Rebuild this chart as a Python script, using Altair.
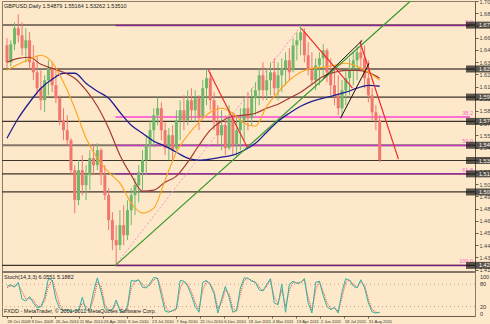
import altair as alt
import pandas as pd

# ---------------- data ----------------
dates = ["26 Oct 2009", "9 Dec 2009", "26 Jan 2010", "11 Mar 2010", "26 Apr 2010",
         "9 Jun 2010", "23 Jul 2010", "7 Sep 2010", "21 Oct 2010", "6 Dec 2010",
         "19 Jan 2011", "4 Mar 2011", "19 Apr 2011", "2 Jun 2011", "18 Jul 2011",
         "31 Aug 2011"]
date_bars = [0, 32, 64, 96, 128, 160, 192, 224, 256, 288, 320, 352, 384, 416, 448, 480]

# weekly candles (bar index = trading day count from 26 Oct 2009)
bars = [5 * w for w in range(100)]
opens = [1.6538,1.6360,1.6549,1.6717,1.6643,1.6507,1.6591,1.6360,1.6255,1.6088,
         1.5962,1.6172,1.6297,1.6119,1.5983,1.5752,1.5648,1.5543,1.5228,1.4914,
         1.5228,1.5071,1.5176,1.5354,1.5281,1.5438,1.5176,1.4966,1.4704,1.4495,
         1.4442,1.4652,1.4547,1.4809,1.4966,1.5071,1.5207,1.5333,1.5490,1.5648,
         1.5805,1.5878,1.5648,1.5459,1.5595,1.5459,1.5752,1.5857,1.5752,1.5962,
         1.5857,1.5983,1.5794,1.6088,1.6193,1.5962,1.5731,1.5595,1.5700,1.5459,
         1.5773,1.5490,1.5648,1.5752,1.5878,1.5773,1.5983,1.6067,1.6224,1.6067,
         1.6172,1.6255,1.6088,1.6224,1.6297,1.6381,1.6276,1.6538,1.6591,1.6675,
         1.6434,1.6276,1.6172,1.6329,1.6402,1.6486,1.6255,1.6119,1.6014,1.5878,
         1.6067,1.6193,1.6297,1.6381,1.6465,1.6402,1.6193,1.6014,1.5836,1.5752]
closes = [1.6360,1.6549,1.6717,1.6643,1.6507,1.6591,1.6360,1.6255,1.6088,1.5962,
          1.6172,1.6297,1.6119,1.5983,1.5752,1.5648,1.5543,1.5228,1.4914,1.5228,
          1.5071,1.5176,1.5354,1.5281,1.5438,1.5176,1.4966,1.4704,1.4495,1.4442,
          1.4652,1.4547,1.4809,1.4966,1.5071,1.5207,1.5333,1.5490,1.5648,1.5805,
          1.5878,1.5648,1.5459,1.5595,1.5438,1.5752,1.5857,1.5752,1.5962,1.5857,
          1.5983,1.5773,1.6088,1.6193,1.5962,1.5731,1.5595,1.5700,1.5459,1.5773,
          1.5490,1.5648,1.5752,1.5878,1.5773,1.5983,1.6067,1.6224,1.6067,1.6172,
          1.6255,1.6088,1.6224,1.6297,1.6381,1.6255,1.6538,1.6591,1.6675,1.6434,
          1.6276,1.6172,1.6329,1.6402,1.6486,1.6255,1.6119,1.6014,1.5878,1.6067,
          1.6193,1.6297,1.6381,1.6465,1.6402,1.6193,1.6014,1.5836,1.5752,1.5333]
highs = [1.6612,1.6591,1.6779,1.6863,1.6779,1.6717,1.6675,1.6538,1.6434,1.6276,
         1.6224,1.6381,1.6360,1.6276,1.6014,1.5878,1.5805,1.5564,1.5281,1.5333,
         1.5386,1.5281,1.5438,1.5490,1.5511,1.5459,1.5281,1.5040,1.4788,1.4652,
         1.4809,1.4862,1.4914,1.5040,1.5145,1.5281,1.5438,1.5595,1.5752,1.5878,
         1.5993,1.5941,1.5731,1.5669,1.5700,1.5857,1.5962,1.6014,1.6067,1.6088,
         1.6067,1.6014,1.6172,1.6287,1.6255,1.6046,1.5910,1.5857,1.5805,1.5910,
         1.5836,1.5805,1.5878,1.5983,1.6046,1.6088,1.6151,1.6297,1.6360,1.6297,
         1.6360,1.6402,1.6360,1.6402,1.6465,1.6507,1.6612,1.6675,1.6748,1.6717,
         1.6570,1.6465,1.6402,1.6465,1.6549,1.6507,1.6402,1.6297,1.6224,1.6172,
         1.6297,1.6402,1.6465,1.6528,1.6591,1.6538,1.6381,1.6088,1.5910,1.5805]
lows = [1.6297,1.6318,1.6486,1.6570,1.6434,1.6360,1.6276,1.6172,1.6014,1.5857,
        1.5836,1.6014,1.6046,1.5931,1.5700,1.5543,1.5490,1.5176,1.4778,1.4862,
        1.4966,1.4914,1.5019,1.5176,1.5228,1.5071,1.4914,1.4600,1.4390,1.4233,
        1.4390,1.4442,1.4495,1.4652,1.4757,1.4893,1.5019,1.5176,1.5333,1.5469,
        1.5700,1.5543,1.5386,1.5333,1.5333,1.5438,1.5543,1.5648,1.5700,1.5752,
        1.5731,1.5648,1.5773,1.5910,1.5857,1.5648,1.5490,1.5438,1.5386,1.5438,
        1.5386,1.5365,1.5438,1.5543,1.5648,1.5700,1.5805,1.5910,1.5962,1.5962,
        1.6014,1.6014,1.5962,1.6046,1.6119,1.6172,1.6255,1.6381,1.6434,1.6360,
        1.6224,1.6119,1.6067,1.6119,1.6224,1.6151,1.6014,1.5910,1.5805,1.5773,
        1.5910,1.6014,1.6119,1.6172,1.6276,1.6088,1.5941,1.5752,1.5648,1.5312]

# moving averages, read every 15 bars
ma_bars = [15 * i for i in range(34)]
ma_fast = [1.6276,1.6339,1.6392,1.6434,1.6360,1.6151,1.5878,1.5564,1.5354,1.5207,
           1.5092,1.4883,1.4778,1.4830,1.5124,1.5417,1.5595,1.5731,1.5836,1.5878,
           1.5826,1.5721,1.5690,1.5899,1.6046,1.6172,1.6255,1.6297,1.6308,1.6329,
           1.6350,1.6318,1.6255,1.6172]
ma_mid = [1.6360,1.6402,1.6413,1.6339,1.6297,1.6255,1.6193,1.6067,1.5899,1.5669,
          1.5386,1.5176,1.5008,1.5019,1.5103,1.5166,1.5312,1.5490,1.5648,1.5742,
          1.5794,1.5805,1.5826,1.5878,1.5920,1.5983,1.6046,1.6130,1.6214,1.6255,
          1.6276,1.6276,1.6255,1.6193]
ma_slow = [1.5564,1.5773,1.5941,1.6088,1.6182,1.6245,1.6245,1.6140,1.6056,1.5983,
           1.5836,1.5700,1.5616,1.5532,1.5480,1.5417,1.5354,1.5333,1.5344,1.5365,
           1.5386,1.5438,1.5511,1.5627,1.5742,1.5826,1.5899,1.5951,1.5983,1.6014,
           1.6046,1.6088,1.6119,1.6109]

# stochastic (%K and signal), one value per candle
stoch_k = [75,78,72,85,40,35,47,30,17,20, 45,95,90,40,15,8,12,6,10,8,
           45,10,12,60,97,60,15,10,12,38, 8,5,20,90,88,92,72,70,83,98,
           96,50,8,5,10,15,90,88,75,50, 20,5,85,90,78,55,3,40,74,45,
           5,10,70,97,96,88,85,65,62,80, 95,30,25,80,5,80,88,82,85,95,
           30,3,85,88,50,20,12,18,3,60, 95,90,75,70,92,70,30,6,3,5]
stoch_d = [70,76,75,80,60,40,42,38,22,20, 35,75,92,60,25,10,10,8,9,9,
           30,20,12,40,85,75,25,12,11,28, 18,7,15,70,88,90,80,72,78,92,
           97,65,20,7,8,12,70,88,80,60, 30,10,65,88,82,62,15,30,65,55,
           15,8,55,90,96,90,86,72,63,75, 90,45,28,65,20,65,85,84,84,92,
           45,10,65,87,60,30,15,16,8,45, 85,92,80,72,85,78,40,12,5,4]
stoch_levels = [20, 80]
stoch_labels = [100, 80, 20, 0]

# price axis
price_ticks = [1.7002,1.6874,1.6746,1.6618,1.6490,1.6362,1.6234,1.6106,1.5978,1.5850,
               1.5722,1.5594,1.5466,1.5338,1.5210,1.5082,1.4954,1.4826,1.4698,1.4570,
               1.4442,1.4314,1.4186]

# horizontal support/resistance lines
hl_heavy = [1.6750, 1.6290, 1.5490]
hl_thin = [1.5995, 1.5740, 1.5330, 1.5190, 1.5000, 1.4230]
hl_boxes = [1.6750, 1.6290, 1.5995, 1.5740, 1.5490, 1.5330, 1.5190, 1.5000, 1.4230]

# fibonacci retracement (low 1.4230 -> high 1.6746)
fib_start, fib_end = 144, 615
fib_names = ["0.0", "38.2", "50.0", "61.8", "100.0"]
fib_prices = [1.6746, 1.5785, 1.5488, 1.5191, 1.4230]

# trend lines (bar, price) -> (bar, price)
green_seg = [(144, 1.4230, 537, 1.7010)]
fib_diag = [(144, 1.4230, 391, 1.6746)]
red_segs = [(267, 1.6287, 319, 1.5469), (391, 1.6717, 459, 1.6088), (469, 1.6570, 520, 1.5344)]
black_segs = [(420, 1.6193, 472, 1.6591), (443, 1.5773, 481, 1.6350)]

title_txt = "GBPUSD,Daily  1.54879 1.55164 1.53262 1.53510"
stoch_txt = "Stoch(14,3,3) 6.0551 5.1882"
copy_txt = "FXDD - MetaTrader, \u00a9 2001-2011 MetaQuotes Software Corp."

# ---------------- chart ----------------
BG = "#FDE9C9"
FONT = "Liberation Sans"
W, H = 473, 315

xsc = alt.Scale(domain=[0, 615], nice=False, zero=False)
ysc = alt.Scale(domain=[1.4171, 1.7003], range=[270, 0], nice=False, zero=False)
ssc = alt.Scale(domain=[-5, 110], range=[315, 272], nice=False, zero=False)

date_expr = "[" + ",".join("'%s'" % d for d in dates) + "][round(datum.value / 32)]"

candles = pd.DataFrame({"bar": bars, "open": opens, "high": highs, "low": lows, "close": closes})
candles["dir"] = ["up" if c >= o else "down" for o, c in zip(opens, closes)]

def dcol():
    return alt.Color("dir:N", scale=alt.Scale(domain=["up", "down"], range=["#6fb86a", "#f0766e"]),
                     legend=None)

xax = alt.Axis(values=date_bars, labelExpr=date_expr, orient="bottom", labelAlign="left",
               labelPadding=1, tickSize=2, labelFontSize=4.2, labelFont=FONT, labelColor="#333333",
               domainColor="#6a5a4a", tickColor="#6a5a4a", title=None, grid=False,
               labelOverlap=False, labelBound=False, labelFlush=False, zindex=0)
yax = alt.Axis(orient="right", values=price_ticks, format=".5f", tickSize=3, labelPadding=1,
               labelFontSize=5.5, labelFont=FONT, labelColor="#444444", domainColor="#6a5a4a",
               tickColor="#6a5a4a", title=None, grid=False, labelOverlap=False,
               labelFlush=False, labelBound=False, zindex=0)

def X(field):
    return alt.X(field, scale=xsc, axis=xax, title=None)

def Y(field):
    return alt.Y(field, scale=ysc, axis=yax, title=None)

def YS(field):
    return alt.Y(field, scale=ssc, axis=None, title=None)

wicks = alt.Chart(candles).mark_rule(strokeWidth=1, clip=True).encode(
    x=X("bar:Q"), y=Y("low:Q"), y2="high:Q", color=dcol())
bodies = alt.Chart(candles).mark_bar(size=3, clip=True).encode(
    x=X("bar:Q"), y=Y("open:Q"), y2="close:Q", color=dcol())

def hlines(levels, color, width):
    return alt.Chart(pd.DataFrame({"p": levels})).mark_rule(color=color, strokeWidth=width).encode(
        y=Y("p:Q"))

heavy = hlines(hl_heavy, "#85766a", 2)
thin = hlines(hl_thin, "#3e342b", 1.2)

fib_colors_list = ["#8e2a8e", "#ff44d8", "#c13cc0", "#9a2e9a", "#7c1f7c"]
fib_layers = []
for nm, pr, colr in zip(fib_names, fib_prices, fib_colors_list):
    fdf = pd.DataFrame({"p": [pr], "x1": [fib_start], "x2": [fib_end]})
    fib_layers.append(alt.Chart(fdf).mark_rule(strokeWidth=1.5, color=colr).encode(
        x=X("x1:Q"), x2="x2:Q", y=Y("p:Q")))

fib_df = pd.DataFrame({"name": fib_names, "p": fib_prices})
fib_text = alt.Chart(fib_df).mark_text(align="right", baseline="bottom", dy=-1, fontSize=5.5,
                                       font=FONT, color="#ff5fd0").encode(
    x=alt.value(471), y=Y("p:Q"), text="name:N")

def segs(rows, color, width, dash=None):
    df = pd.DataFrame(rows, columns=["x1", "y1", "x2", "y2"])
    kw = dict(color=color, strokeWidth=width, clip=True)
    if dash:
        kw["strokeDash"] = dash
    return alt.Chart(df).mark_rule(**kw).encode(
        x=X("x1:Q"), x2="x2:Q", y=Y("y1:Q"), y2="y2:Q")

green = segs(green_seg, "#3a9a2e", 1.3)
fibd = segs(fib_diag, "#f58fd0", 1, [2, 2])
reds = segs(red_segs, "#f02a2a", 1.2)
blacks = segs(black_segs, "#111111", 1)

ma_df = pd.DataFrame({"bar": ma_bars, "fast": ma_fast, "mid": ma_mid, "slow": ma_slow})
def ma(col, color, width):
    return alt.Chart(ma_df).mark_line(color=color, strokeWidth=width, interpolate="monotone",
                                      clip=True).encode(x=X("bar:Q"), y=Y(col + ":Q"))

ma1 = ma("slow", "#1f1f94", 1.3)
ma2 = ma("mid", "#a43a34", 1.2)
ma3 = ma("fast", "#ffa31a", 1.1)

box_df = pd.DataFrame({"p": hl_boxes, "t": ["%.5f" % v for v in hl_boxes]})
boxes = alt.Chart(box_df).mark_tick(orient="horizontal", size=24, thickness=7, color="#141414").encode(
    x=alt.value(476), y=Y("p:Q"))
box_txt = alt.Chart(box_df).mark_text(align="left", fontSize=5.5, font=FONT, color="white").encode(
    x=alt.value(477), y=Y("p:Q"), text="t:N")

main = alt.layer(heavy, thin, *fib_layers, fibd, wicks, bodies, ma1, ma2, ma3,
                 green, reds, blacks, fib_text, boxes, box_txt).resolve_scale(color="independent")

st_df = pd.DataFrame({"bar": bars, "k": stoch_k, "d": stoch_d})
st_lv = alt.Chart(pd.DataFrame({"v": stoch_levels})).mark_rule(
    color="#b9a58e", strokeDash=[1, 3], strokeWidth=1).encode(y=YS("v:Q"))
st_k = alt.Chart(st_df).mark_line(color="#2fb3a3", strokeWidth=1, clip=True).encode(
    x=X("bar:Q"), y=YS("k:Q"))
st_d = alt.Chart(st_df).mark_line(color="#f03c3c", strokeWidth=1, strokeDash=[1, 1], clip=True).encode(
    x=X("bar:Q"), y=YS("d:Q"))
st_lab = alt.Chart(pd.DataFrame({"v": stoch_labels})).mark_text(
    align="left", fontSize=5.5, font=FONT, color="#333333").encode(
    x=alt.value(478), y=YS("v:Q"), text=alt.Text("v:Q"))
stoch = alt.layer(st_lv, st_d, st_k, st_lab)

sep = alt.Chart(pd.DataFrame({"a": [0]})).mark_rule(color="#85766a", strokeWidth=2).encode(
    y=alt.value(271))

def note(txt, x, y):
    return alt.Chart(pd.DataFrame({"t": [txt]})).mark_text(
        align="left", baseline="middle", fontSize=5.5, font=FONT, color="#222222").encode(
        x=alt.value(x), y=alt.value(y), text="t:N")

chart = alt.layer(main, stoch, sep,
                  note(title_txt, 2, 5), note(stoch_txt, 2, 276), note(copy_txt, 2, 310)
                  ).resolve_scale(y="independent").properties(
    width=W, height=H,
    autosize=alt.AutoSizeParams(type="none"),
    padding={"left": 2, "top": 1, "right": 15, "bottom": 8},
    background=BG,
).configure_view(stroke="#8c7c6c", strokeWidth=1, fill=BG)

chart.save("out.html", embed_options={"renderer": "svg", "actions": False})
